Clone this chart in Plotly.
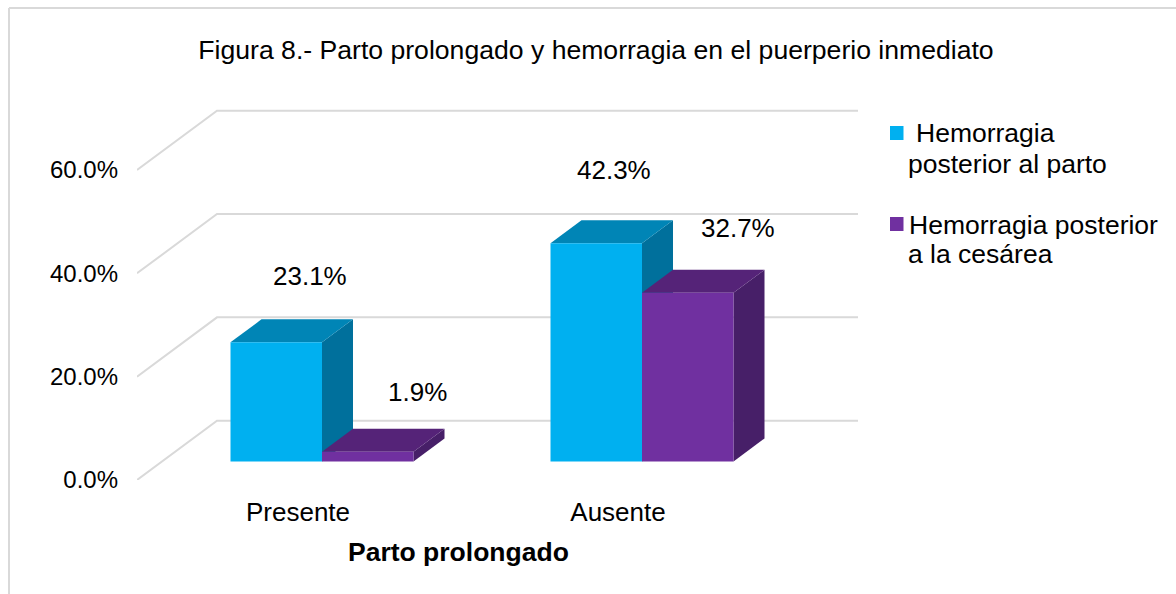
import plotly.graph_objects as go

categories = ["Presente", "Ausente"]
series_names = ["Hemorragia posterior al parto", "Hemorragia posterior a la cesárea"]
parto = [23.1, 42.3]
cesarea = [1.9, 32.7]
y_ticks = [0, 20, 40, 60]
y_tick_labels = ["0.0%", "20.0%", "40.0%", "60.0%"]

W, H = 1176, 594
L, R, T, B = 137, 858, 105, 480          # plot box in page pixels
X0_PX, X_UNIT = 322, 320                 # category 0 centre, px per category
Y_UNIT = 5.167                           # wall scale, px per percent
BAR_UNIT = 5.157                         # bar scale, px per percent
BASE_PX = 461.5                          # foot of the bars
BAR_W = 91.5 / X_UNIT
DX, DY = 31 / X_UNIT, 23 / BAR_UNIT      # depth of the bars
WALL_DX, WALL_DY = 80 / X_UNIT, 59.3 / Y_UNIT
X_RANGE = [(L - X0_PX) / X_UNIT, (R - X0_PX) / X_UNIT]
Y_RANGE = [0, (B - T) / Y_UNIT]
Y2_RANGE = [(BASE_PX - B) / BAR_UNIT, (BASE_PX - T) / BAR_UNIT]
FONT = "Liberation Sans, Arial, sans-serif"
GRID = "#d9d9d9"

def px(p):
    return (p - L) / (R - L)

def py(p):
    return (B - p) / (B - T)

fig = go.Figure()

for v in y_ticks:
    fig.add_trace(go.Scatter(
        x=[X_RANGE[0], X_RANGE[0] + WALL_DX, X_RANGE[1]],
        y=[v, v + WALL_DY, v + WALL_DY],
        mode="lines", line=dict(color=GRID, width=2),
        cliponaxis=False, showlegend=False, hoverinfo="skip", yaxis="y"))

def faces(x0, v, top, side):
    x1 = x0 + BAR_W
    fig.add_trace(go.Scatter(
        x=[x1, x1, x1 + DX, x1 + DX, x1], y=[0, v, v + DY, DY, 0],
        mode="lines", fill="toself", fillcolor=side, line=dict(width=0, color=side),
        showlegend=False, hoverinfo="skip", yaxis="y2"))
    fig.add_trace(go.Scatter(
        x=[x0, x1, x1 + DX, x0 + DX, x0], y=[v, v, v + DY, v + DY, v],
        mode="lines", fill="toself", fillcolor=top, line=dict(width=0, color=top),
        showlegend=False, hoverinfo="skip", yaxis="y2"))

positions = list(range(len(categories)))
for i in positions:
    faces(i - BAR_W, parto[i], "#0085b6", "#00709c")
for i in positions:
    faces(i, cesarea[i], "#552378", "#471f68")

fig.add_trace(go.Bar(x=positions, y=parto, name=series_names[0], width=BAR_W, offset=-BAR_W,
                     marker=dict(color="#00b0f0", line=dict(width=0)), yaxis="y3", showlegend=False))
fig.add_trace(go.Bar(x=positions, y=cesarea, name=series_names[1], width=BAR_W, offset=0,
                     marker=dict(color="#7030a0", line=dict(width=0)), yaxis="y3", showlegend=False))

annotations = []
def label(x, y, text, xshift, yshift):
    annotations.append(dict(x=x, y=y, xref="x", yref="y3", text=text, showarrow=False,
                            xshift=xshift, yshift=yshift, font=dict(family=FONT, size=26, color="#000000")))

label(0 - BAR_W / 2, parto[0], f"{parto[0]:.1f}%", 34, 66)
label(0 + BAR_W / 2, cesarea[0], f"{cesarea[0]:.1f}%", 50, 60)
label(1 - BAR_W / 2, parto[1], f"{parto[1]:.1f}%", 18, 73)
label(1 + BAR_W / 2, cesarea[1], f"{cesarea[1]:.1f}%", 50, 65)

def page_text(x, y, text, size=26.5, bold=False, anchor="left"):
    annotations.append(dict(x=px(x), y=py(y), xref="paper", yref="paper", text=f"<b>{text}</b>" if bold else text,
                            showarrow=False, xanchor=anchor, yanchor="middle", borderpad=0, borderwidth=0,
                            font=dict(family=FONT, size=size, color="#000000")))

page_text(458, 552, "Parto prolongado", size=26.5, bold=True, anchor="center")
page_text(916, 133, "Hemorragia")
page_text(908, 164, "posterior al parto")
page_text(909, 225, "Hemorragia posterior")
page_text(908, 254, "a la cesárea")

shapes = [
    dict(type="line", xref="paper", yref="paper", x0=px(9), x1=px(W), y0=py(8), y1=py(8),
         line=dict(color=GRID, width=2), layer="below"),
    dict(type="line", xref="paper", yref="paper", x0=px(9), x1=px(9), y0=py(8), y1=py(H),
         line=dict(color=GRID, width=2), layer="below"),
    dict(type="rect", xref="paper", yref="paper", x0=px(890), x1=px(903.5), y0=py(126), y1=py(140),
         fillcolor="#00b0f0", line=dict(width=0)),
    dict(type="rect", xref="paper", yref="paper", x0=px(890), x1=px(903.5), y0=py(217), y1=py(231),
         fillcolor="#7030a0", line=dict(width=0)),
]

fig.update_layout(
    width=W, height=H, margin=dict(l=L, r=W - R, t=T, b=H - B, pad=0),
    paper_bgcolor="white", plot_bgcolor="rgba(0,0,0,0)", showlegend=False, barmode="overlay",
    font=dict(family=FONT, color="#000000"),
    title=dict(text="Figura 8.- Parto prolongado y hemorragia en el puerperio inmediato",
               x=596 / W, xanchor="center", y=1 - 50 / H, yanchor="middle",
               font=dict(family=FONT, size=26.6, color="#000000")),
    xaxis=dict(range=X_RANGE, tickmode="array", tickvals=[p - 24 / X_UNIT for p in positions], ticktext=categories,
               showgrid=False, zeroline=False, showline=False, ticks="", ticklabelstandoff=14,
               tickfont=dict(family=FONT, size=26, color="#000000")),
    yaxis=dict(range=Y_RANGE, tickmode="array", tickvals=y_ticks, ticktext=y_tick_labels,
               showgrid=False, zeroline=False, showline=False, ticks="", ticklabelstandoff=18,
               tickfont=dict(family=FONT, size=24, color="#000000")),
    yaxis2=dict(range=Y2_RANGE, overlaying="y", visible=False),
    yaxis3=dict(range=Y2_RANGE, overlaying="y", visible=False),
    annotations=annotations, shapes=shapes,
)

fig.write_html("out.html", config={"displayModeBar": False},
               post_script="document.body.style.margin='0';document.body.style.overflow='hidden';")
